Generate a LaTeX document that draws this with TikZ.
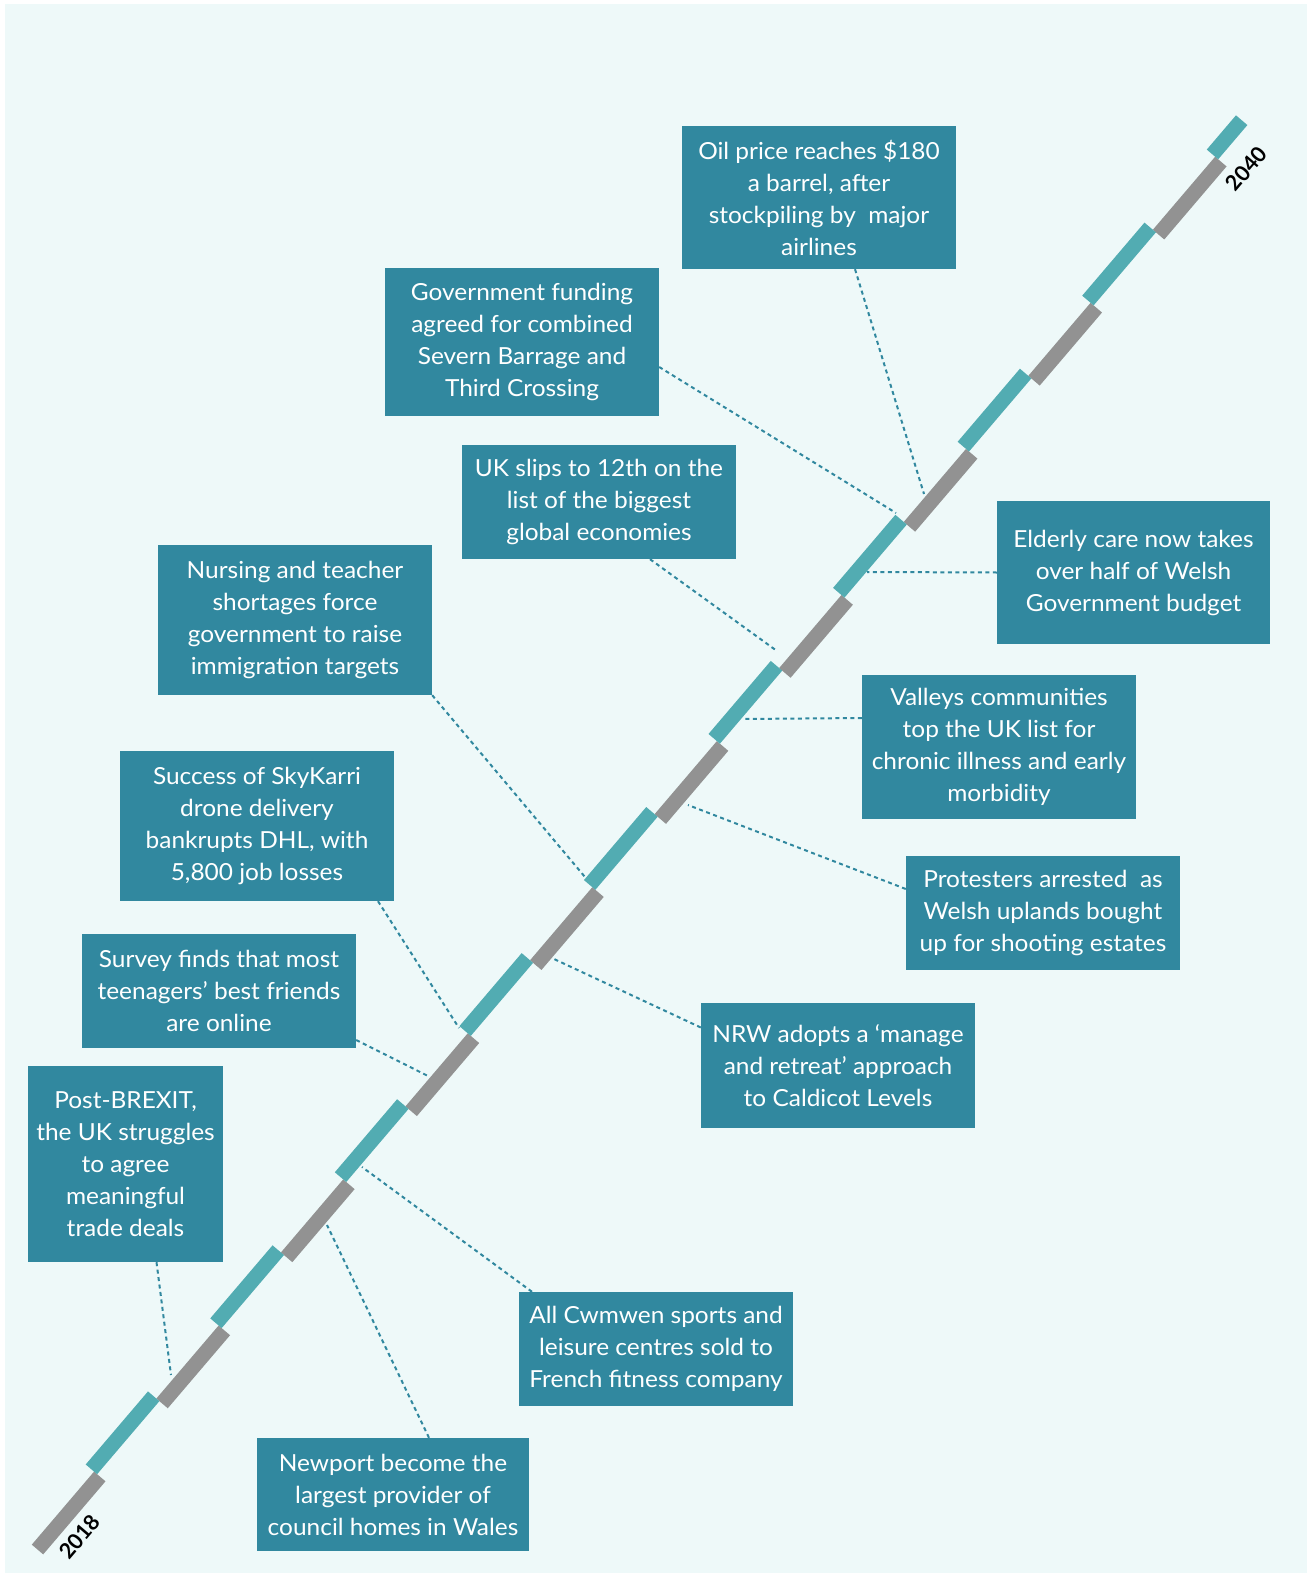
\documentclass[tikz,border=0pt]{standalone}
\usepackage{fontspec}
\setmainfont{Lato}
\newfontfamily\eventfont{Lato}[FakeStretch=1.04]
\usetikzlibrary{calc}
\definecolor{pagebg}{HTML}{EEF9F9}
\definecolor{boxfill}{HTML}{31889F}
\definecolor{tealbar}{HTML}{52ACB2}
\definecolor{greybar}{HTML}{929292}
\tikzset{
  eventbox/.style={fill=boxfill, text=white, inner sep=0pt, align=center,
    font={\eventfont\fontsize{23.5}{32}\selectfont}},
  leader/.style={draw=boxfill, line width=2pt, dash pattern=on 4pt off 3.5pt},
  greyseg/.style={draw=greybar, line width=15pt},
  tealseg/.style={draw=tealbar, line width=15pt},
  yearlabel/.style={font={\fontsize{21.5}{24}\selectfont\bfseries}, text=black, inner sep=0pt}
}
\begin{document}
\begin{tikzpicture}[x=1pt,y=-1pt]
\useasboundingbox (0,0) rectangle (1313,1578);
\fill[white] (0,0) rectangle (1313,1578);
\fill[pagebg] (5,4) rectangle (1307,1573);

% staggered timeline bar, 2018 at the lower left to 2040 at the upper right
\begin{scope}[shift={(37.5,1549.5)}, rotate=49.55]
  \foreach \i in {0,2,...,18} {
    \draw[greyseg] ({96*\i},0) -- ({96*\i+96},0);
  }
  \foreach \i in {1,3,...,17} {
    \draw[tealseg] ({96*\i},-11) -- ({96*\i+96},-11);
  }
  \draw[tealseg] (1824,-11) -- (1869,-11);
  \node[yearlabel, rotate=49.55] (y2018) at (37,24) {2018};
  \node[yearlabel, rotate=49.55] (y2040) at (1835,24) {2040};
\end{scope}

% event boxes
\node[eventbox, minimum width=274, minimum height=143] (oil) at (819,197.5)
  {Oil price reaches \$180\\a barrel, after\\stockpiling by\ \ major\\airlines};
\node[eventbox, minimum width=274, minimum height=148] (gov) at (522,342)
  {Government funding\\agreed for combined\\Severn Barrage and\\Third Crossing};
\node[eventbox, minimum width=274, minimum height=114] (uk) at (599,502)
  {UK slips to 12th on the\\list of the biggest\\global economies};
\node[eventbox, minimum width=273, minimum height=143] (eld) at (1133.5,572.5)
  {Elderly care now takes\\over half of Welsh\\Government budget};
\node[eventbox, minimum width=274, minimum height=150] (nur) at (295,620)
  {Nursing and teacher\\shortages force\\government to raise\\immigration targets};
\node[eventbox, minimum width=274, minimum height=144] (val) at (999,747)
  {Valleys communities\\top the UK list for\\chronic illness and early\\morbidity};
\node[eventbox, minimum width=274, minimum height=150] (suc) at (257,826)
  {Success of SkyKarri\\drone delivery\\bankrupts DHL, with\\5,800 job losses};
\node[eventbox, minimum width=274, minimum height=114] (pro) at (1043,913)
  {Protesters arrested\ \ as\\Welsh uplands bought\\up for shooting estates};
\node[eventbox, minimum width=274, minimum height=114] (sur) at (219,991)
  {Survey finds that most\\teenagers’ best friends\\are online};
\node[eventbox, minimum width=274, minimum height=125] (nrw) at (838,1065.5)
  {NRW adopts a ‘manage\\and retreat’ approach\\to Caldicot Levels};
\node[eventbox, minimum width=195, minimum height=196] (pst) at (125.5,1164)
  {Post-BREXIT,\\the UK struggles\\to agree\\meaningful\\trade deals};
\node[eventbox, minimum width=274, minimum height=114] (cwm) at (656,1349)
  {All Cwmwen sports and\\leisure centres sold to\\French fitness company};
\node[eventbox, minimum width=272, minimum height=113] (new) at (393,1494.5)
  {Newport become the\\largest provider of\\council homes in Wales};

% points on the timeline reached by the leaders
\coordinate (tOil) at (924,494);
\coordinate (tGov) at (896,513);
\coordinate (tUk) at (777,651);
\coordinate (tEld) at (867,572);
\coordinate (tNur) at (585,877);
\coordinate (tVal) at (742,719);
\coordinate (tSuc) at (459,1028);
\coordinate (tPro) at (688,805);
\coordinate (tSur) at (428,1076);
\coordinate (tNrw) at (554,959);
\coordinate (tPst) at (171,1375);
\coordinate (tCwm) at (362,1167);
\coordinate (tNew) at (327,1225);

% dotted leaders
\draw[leader] ([xshift=36]oil.south) -- (tOil);
\draw[leader] ([yshift=-25]gov.east) -- (tGov);
\draw[leader] ([xshift=51]uk.south) -- (tUk);
\draw[leader] (eld.west) -- (tEld);
\draw[leader] (nur.south east) -- (tNur);
\draw[leader] ([yshift=29]val.west) -- (tVal);
\draw[leader] ([xshift=121]suc.south) -- (tSuc);
\draw[leader] ([yshift=24]pro.west) -- (tPro);
\draw[leader] ([yshift=-49]sur.east) -- (tSur);
\draw[leader] ([yshift=38]nrw.west) -- (tNrw);
\draw[leader] ([xshift=31]pst.south) -- (tPst);
\draw[leader] ([xshift=-124]cwm.north) -- (tCwm);
\draw[leader] ([xshift=36]new.north) -- (tNew);
\end{tikzpicture}
\end{document}
